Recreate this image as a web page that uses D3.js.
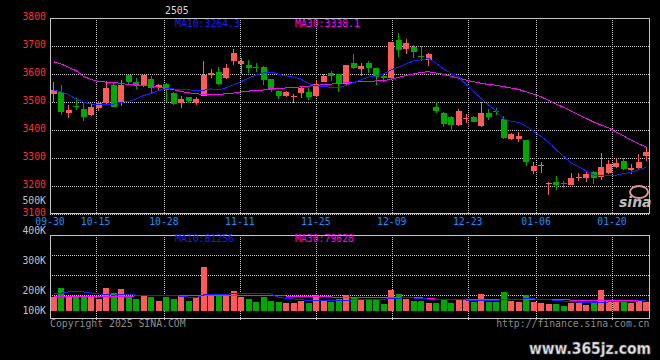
<!DOCTYPE html>
<html><head><meta charset="utf-8">
<script src="https://cdn.jsdelivr.net/npm/d3@7/dist/d3.min.js"></script>
<style>
html,body{margin:0;padding:0;background:#000;}
svg{display:block;}
text{font-family:"DejaVu Sans Mono",monospace;font-size:9.8px;}
</style></head><body>
<svg id="c" width="660" height="360"></svg>
<script>
// ---------------- data ----------------
const dates = ["09-30","10-08","10-09","10-10","10-11","10-14","10-15","10-16","10-17","10-18",
"10-21","10-22","10-23","10-24","10-25","10-28","10-29","10-30","10-31","11-01",
"11-04","11-05","11-06","11-07","11-08","11-11","11-12","11-13","11-14","11-15",
"11-18","11-19","11-20","11-21","11-22","11-25","11-26","11-27","11-28","11-29",
"12-02","12-03","12-04","12-05","12-06","12-09","12-10","12-11","12-12","12-13",
"12-16","12-17","12-18","12-19","12-20","12-23","12-24","12-25","12-26","12-27",
"12-30","12-31","01-02","01-03","01-06","01-07","01-08","01-09","01-10","01-13",
"01-14","01-15","01-16","01-17","01-20","01-21","01-22","01-23","01-24","01-27"];
const openP = [3529,3535,3462,3485,3474,3454,3477,3495,3562,3495,
3598,3573,3557,3582,3555,3563,3531,3495,3517,3498,
3523,3595,3607,3585,3648,3636,3632,3626,3626,3582,
3539,3523,3521,3532,3537,3523,3573,3605,3599,3564,
3641,3618,3641,3620,3592,3585,3721,3688,3698,3666,
3650,3483,3461,3448,3418,3439,3448,3414,3460,3469,
3439,3368,3368,3364,3254,3270,3208,3216,3211,3204,
3227,3230,3249,3233,3248,3269,3289,3257,3266,3307];
const highP = [3570,3561,3488,3513,3500,3492,3505,3574,3569,3579,
3598,3587,3598,3593,3564,3569,3537,3523,3519,3519,
3646,3617,3624,3636,3688,3656,3650,3638,3629,3582,
3543,3539,3527,3555,3549,3579,3599,3611,3599,3632,
3671,3638,3646,3623,3600,3714,3747,3725,3704,3700,
3676,3499,3463,3451,3475,3456,3451,3499,3475,3477,
3451,3388,3392,3364,3287,3287,3216,3236,3218,3248,
3245,3254,3255,3319,3293,3299,3299,3279,3316,3341];
const lowP = [3501,3454,3444,3471,3433,3450,3469,3493,3481,3487,
3560,3548,3555,3531,3541,3501,3489,3480,3495,3488,
3522,3585,3562,3581,3632,3599,3605,3608,3561,3537,
3510,3519,3498,3513,3507,3519,3573,3576,3537,3561,
3617,3594,3602,3561,3572,3584,3662,3671,3658,3646,
3630,3460,3412,3400,3416,3424,3427,3412,3436,3454,
3367,3364,3358,3273,3242,3245,3168,3186,3194,3204,
3218,3213,3207,3221,3244,3263,3257,3242,3261,3291];
const closeP = [3543,3466,3473,3482,3448,3483,3498,3550,3483,3562,
3571,3557,3598,3549,3561,3543,3493,3511,3504,3510,
3596,3602,3564,3621,3676,3648,3621,3620,3579,3543,
3523,3537,3523,3549,3519,3564,3593,3593,3564,3632,
3623,3629,3623,3591,3586,3714,3686,3710,3680,3664,
3671,3468,3421,3418,3469,3444,3430,3460,3448,3466,
3373,3385,3380,3287,3273,3275,3212,3204,3207,3230,
3233,3243,3230,3269,3277,3281,3261,3263,3287,3323];
const volume = [112000,190000,117000,112000,117000,112000,101000,190000,148000,182000,
123000,101000,123000,112000,81000,112000,101000,129000,79000,112000,
367000,129000,129000,123000,168000,117000,98000,76000,112000,81000,
73000,67000,67000,81000,62000,129000,90000,76000,98000,129000,
112000,87000,90000,95000,56000,173000,140000,98000,84000,81000,
67000,67000,98000,67000,95000,98000,76000,140000,76000,76000,
157000,81000,76000,129000,76000,67000,56000,56000,39000,62000,
62000,48000,76000,173000,90000,76000,84000,62000,84000,76000];
// moving-average values before enough history exists
const ma10Lead = [3543,3537,3526,3511,3499,3493,3492,3492,3492];
const ma30Lead = [3644,3636,3624,3612,3592,3580,3574,3571,3569,3567,
3562,3561,3560,3557,3553,3549,3544,3538,3533,3529,
3528,3528,3528,3529,3532,3536,3539,3541,3543];
const volMa10Lead = [146000,146000,157000,157000,157000,148000,140000,135000,130000];
const volMa30Lead = [117000,117000,117000,117000,117000,117000,117000,117000,117000,117000,
117000,126000,126000,126000,126000,126000,126000,126000,126000,126000,
126000,126000,126000,126000,126000,126000,126000,126000,126000];
const priceTicks = [3800,3700,3600,3500,3400,3300,3200,3100];
const dateTicks = ["09-30","10-15","10-28","11-11","11-25","12-09","12-23","01-06","01-20"];
const volTicks = [500000,400000,300000,200000,100000];
const titleText = "2505";
const ma10Label = "MA10:3264.3", ma30Label = "MA30:3338.1";
const vma10Label = "MA10:81256", vma30Label = "MA30:79628";

// ---------------- drawing ----------------
const RED="#ff5a5a", GREEN="#00a800", GRID="#c4c4c4", BLUE="#1c1cff", MAG="#ff00ff";
const svg = d3.select("#c");
svg.append("rect").attr("width",660).attr("height",360).attr("fill","#000");
const L=50, R=650, T=18, B=214, VT=234.5, VB=310.7, VBL=318.5;

const x = d3.scaleBand().domain(dates).range([L,R]);
const xg = d3.scalePoint().domain(dates).range([L,R]);
const y = d3.scaleLinear().domain([3100,3800]).range([B,T]);
const yv = d3.scaleLinear().domain([0,640000]).range([VB,234.3]);
const yvLab = d3.scaleLinear().domain([200000,500000]).range([294,204]);

const data = dates.map((d,i)=>({d,o:openP[i],h:highP[i],l:lowP[i],c:closeP[i],v:volume[i]}));
const colr = d => d.c >= d.o ? RED : GREEN;
const ma = (arr,n,lead) => arr.map((_,i)=> i<n-1 ? lead[i] : d3.mean(arr.slice(i-n+1,i+1)));
const ma10 = ma(closeP,10,ma10Lead), ma30 = ma(closeP,30,ma30Lead);
const vma10 = ma(volume,10,volMa10Lead), vma30 = ma(volume,30,volMa30Lead);
const cx = d => x(d)+3.5;

// grids (main)
const gGrid = svg.append("g").attr("stroke",GRID).attr("stroke-dasharray","1,1").attr("shape-rendering","crispEdges");
gGrid.selectAll("line.h").data(priceTicks.slice(1,-1)).join("line")
  .attr("x1",L).attr("x2",R).attr("y1",d=>Math.round(y(d))+0.5).attr("y2",d=>Math.round(y(d))+0.5);
gGrid.selectAll("line.v").data(dateTicks.slice(1)).join("line")
  .attr("x1",d=>Math.round(xg(d))+0.5).attr("x2",d=>Math.round(xg(d))+0.5).attr("y1",T).attr("y2",B);
// grids (volume)
const volGrid = d3.range(1,4).map(k=>VT+k*20.3);
gGrid.selectAll("line.vh").data(volGrid).join("line")
  .attr("x1",L).attr("x2",R).attr("y1",d=>Math.round(d)+0.5).attr("y2",d=>Math.round(d)+0.5);
gGrid.selectAll("line.vv").data(dateTicks.slice(1)).join("line")
  .attr("x1",d=>Math.round(xg(d))+0.5).attr("x2",d=>Math.round(xg(d))+0.5).attr("y1",VT).attr("y2",321);
// borders
const gB = svg.append("g").attr("stroke",GRID).attr("shape-rendering","crispEdges").attr("fill","none");
gB.append("path").attr("d",`M${R-0.5},${T+0.5}H${L+0.5}V${B-0.5}H${R-0.5}Z`);
gB.append("line").attr("x1",L).attr("x2",R).attr("y1",B+0.5).attr("y2",B+0.5).attr("stroke-dasharray","1,1");
gB.append("path").attr("d",`M${R-0.5},${VT+0.5}H${L+0.5}V${VBL}M${L},${VBL}H${R}M${R-0.5},${VT}V${VBL}`);

// candles
const gC = svg.append("g").attr("shape-rendering","crispEdges");
gC.selectAll("line").data(data).join("line")
  .attr("x1",d=>cx(d.d)).attr("x2",d=>cx(d.d))
  .attr("y1",d=>y(d.h)).attr("y2",d=>y(d.l)).attr("stroke",colr);
gC.selectAll("rect").data(data).join("rect")
  .attr("x",d=>x(d.d)+0.5).attr("width",6)
  .attr("y",d=>y(Math.max(d.o,d.c)))
  .attr("height",d=>Math.max(1,Math.abs(y(d.o)-y(d.c))))
  .attr("fill",colr);

// volume bars
svg.append("g").attr("shape-rendering","crispEdges").selectAll("rect").data(data).join("rect")
  .attr("x",d=>x(d.d)+0.5).attr("width",6)
  .attr("y",d=>yv(d.v)).attr("height",d=>VB-yv(d.v)).attr("fill",colr);

// MA lines
const line = (sc) => d3.line().x((v,i)=>cx(dates[i])).y(v=>sc(v));
const gL = svg.append("g").attr("fill","none").attr("stroke-width",1).attr("shape-rendering","crispEdges");
gL.append("path").attr("d",line(y)(ma30)).attr("stroke",MAG);
gL.append("path").attr("d",line(y)(ma10)).attr("stroke",BLUE);
gL.append("path").attr("d",line(yv)(vma30)).attr("stroke",MAG);
gL.append("path").attr("d",line(yv)(vma10)).attr("stroke",BLUE);

// axis labels
svg.append("g").attr("fill","#ff3030").attr("text-anchor","end").selectAll("text").data(priceTicks).join("text")
  .attr("x",46).attr("y",d=>y(d)+2).text(d=>d);
svg.append("g").attr("fill","#1a8cff").attr("text-anchor","middle").selectAll("text").data(dateTicks).join("text")
  .attr("x",d=>xg(d)).attr("y",225).text(d=>d);
svg.append("g").attr("fill","#c0c0c0").attr("text-anchor","end").selectAll("text").data(volTicks).join("text")
  .attr("x",46).attr("y",d=>Math.min(314,yvLab(d))).text(d=>(d/1000)+"K");

// legends / titles
svg.append("text").attr("x",165).attr("y",13.5).attr("fill","#d8d8d8").text(titleText);
svg.append("text").attr("x",175).attr("y",26.5).attr("fill",BLUE).text(ma10Label);
svg.append("text").attr("x",295).attr("y",26.5).attr("fill",MAG).text(ma30Label);
svg.append("text").attr("x",175).attr("y",241.5).attr("fill",BLUE).text(vma10Label);
svg.append("text").attr("x",295).attr("y",241.5).attr("fill",MAG).text(vma30Label);
svg.append("text").attr("x",50).attr("y",326.5).attr("fill","#8a8a8a").text("Copyright 2025 SINA.COM");
svg.append("text").attr("x",649.5).attr("y",326.5).attr("text-anchor","end").attr("fill","#8a8a8a").text("http://finance.sina.com.cn");

// sina watermark
const wm = svg.append("g").attr("opacity",0.9);
wm.append("ellipse").attr("cx",639).attr("cy",192).attr("rx",9).attr("ry",6).attr("fill","none").attr("stroke","#f4a0a0").attr("stroke-width",2);
wm.append("text").attr("x",619).attr("y",207).attr("fill","#d0d0d0").attr("font-style","italic").attr("font-weight","bold")
  .style("font-family","'DejaVu Sans',sans-serif").style("font-size","14px").text("sina");

// site watermark (bottom right)
svg.append("text").attr("x",651).attr("y",354).attr("text-anchor","end")
  .attr("fill","#e6e6e6").attr("stroke","#6a6a7a").attr("stroke-width",0.6)
  .attr("textLength",122).attr("lengthAdjust","spacingAndGlyphs")
  .style("font-family","'DejaVu Sans',sans-serif").style("font-size","15px").style("font-weight","bold")
  .text("www.365jz.com");
</script>
</body></html>
